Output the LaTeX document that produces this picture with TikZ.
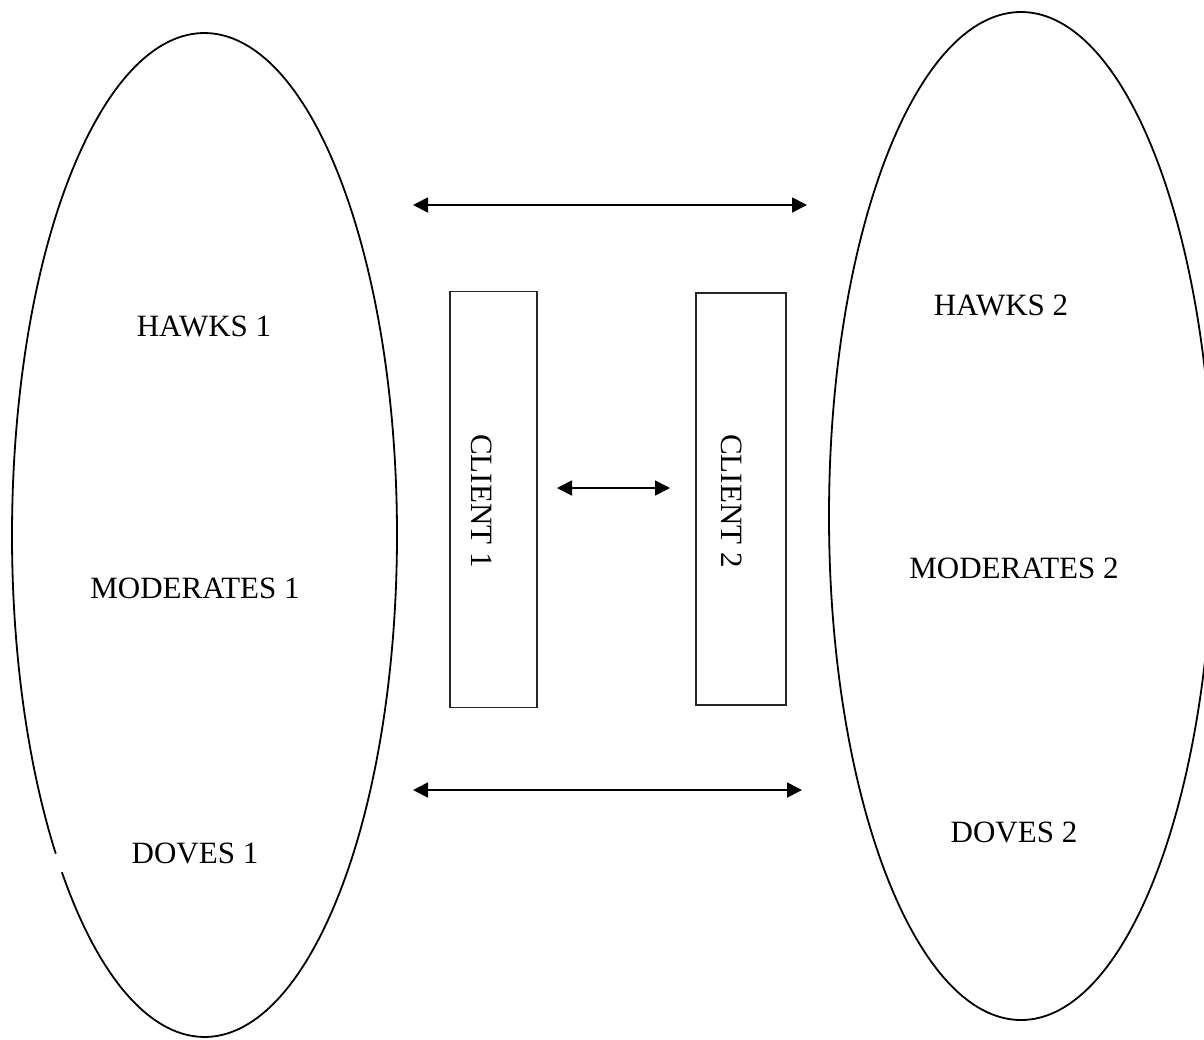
\documentclass[tikz,border=0pt]{standalone}
\usepackage{fontspec}
\setmainfont{Liberation Serif}
\usetikzlibrary{arrows.meta}
\tikzset{
  outline/.style={line width=1.8pt},
  clientbox/.style={draw=black!85, line width=1.5pt, minimum width=87pt, minimum height=416pt, inner sep=0pt},
  lbl/.style={font=\fontsize{31}{36}\selectfont, inner sep=0pt},
  dblarrow/.style={line width=1.8pt, {Triangle[length=15pt,width=15pt]}-{Triangle[length=15pt,width=15pt]}}
}
\begin{document}
\begin{tikzpicture}[x=1pt,y=-1pt]
\useasboundingbox (0,0) rectangle (1204,1039);
\clip (0,0) rectangle (1204,1039);
% left ellipse (with the small gap near lower left)
\draw[outline] (204.5,535) ++(140.6:192.5 and 502) arc[start angle=140.6, end angle=497.8, x radius=192.5, y radius=502];
% right ellipse
\draw[outline] (1021,516) ellipse [x radius=192, y radius=504];
% client boxes
\node[clientbox] (c1) at (493.5,499.5) {};
\node[clientbox, minimum width=90pt, minimum height=412pt] (c2) at (741,499) {};
\node[lbl, rotate=-90] (c1t) at (482,501) {CLIENT 1};
\node[lbl, rotate=-90] (c2t) at (732,501) {CLIENT 2};
% labels
\node[lbl] (h1) at (204,326) {HAWKS 1};
\node[lbl] (m1) at (195,588) {MODERATES 1};
\node[lbl] (d1) at (195,853) {DOVES 1};
\node[lbl] (h2) at (1001,305) {HAWKS 2};
\node[lbl] (m2) at (1014,568) {MODERATES 2};
\node[lbl] (d2) at (1014,832) {DOVES 2};
% arrows
\coordinate (ta) at (413,205);
\coordinate (tb) at (807,205);
\coordinate (ba) at (413,790);
\coordinate (bb) at (802,790);
\coordinate (ma) at (557,488);
\coordinate (mb) at (670,488);
\draw[dblarrow] (ta) -- (tb);
\draw[dblarrow] (ba) -- (bb);
\draw[dblarrow] (ma) -- (mb);
\end{tikzpicture}
\end{document}
